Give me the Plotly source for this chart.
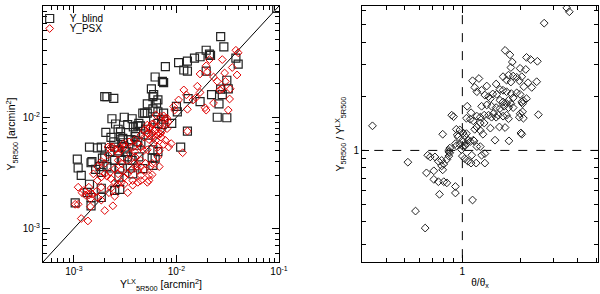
import plotly.graph_objects as go

# ---------------- Left panel data ----------------
blind_x = [0.095, 2.7e-2, 2.9e-2, 1.95e-2, 2.1e-2, 2.15e-2, 1.5e-2, 1.7e-2, 1.05e-2, 1.28e-2,
           1.18e-2, 1.28e-2, 7.8e-3, 6.2e-3, 7.3e-3, 7.5e-3, 1.95e-2, 3.8e-2, 4.0e-2, 3.1e-2,
           3.2e-2, 2.7e-2, 2.8e-2, 2.2e-2, 1.7e-2, 2.6e-2, 2.5e-2, 3.1e-2, 1.3e-2, 1.0e-2,
           1.02e-2, 1.1e-2, 1.28e-2, 5.7e-3, 6.0e-3, 5.9e-3, 6.6e-3, 6.4e-3, 5.2e-3, 5.9e-3,
           6.6e-3, 7.5e-3, 7.5e-3, 7.2e-3, 9.0e-3, 2.0e-3, 2.1e-3, 2.45e-3, 2.35e-3, 2.55e-3,
           2.05e-3, 2.7e-3, 2.85e-3, 2.85e-3, 3.0e-3, 3.1e-3, 3.7e-3, 3.35e-3, 3.8e-3, 4.2e-3,
           4.45e-3, 4.7e-3, 4.9e-3, 5.2e-3, 5.0e-3, 4.3e-3, 4.0e-3, 3.95e-3, 3.4e-3, 3.6e-3,
           4.1e-3, 5.3e-3, 6.0e-3, 6.6e-3, 5.9e-3, 6.6e-3, 5.8e-3, 6.2e-3, 5.9e-3, 1.85e-3,
           1.7e-3, 1.42e-3, 2.25e-3, 2.0e-3, 2.5e-3, 2.7e-3, 3.2e-3, 1.08e-3, 1.1e-3, 1.18e-3,
           1.47e-3, 1.5e-3, 1.42e-3, 1.63e-3, 1.8e-3, 1.9e-3, 2.1e-3, 2.3e-3, 2.5e-3, 2.9e-3,
           2.8e-3, 3.3e-3, 3.35e-3, 3.7e-3, 2.75e-3, 2.5e-3, 2.8e-3, 1.35e-3, 1.47e-3, 1.85e-3,
           1.85e-3, 1.03e-3, 1.47e-3, 4.2e-3, 4.5e-3, 3.05e-3, 3.1e-3, 2.3e-3, 2.45e-3, 1.85e-3,
           3.55e-3, 3.75e-3, 4.3e-3, 4.7e-3]
blind_y = [0.095, 5.3e-2, 4.3e-2, 4.0e-2, 3.7e-2, 3.6e-2, 3.4e-2, 3.5e-2, 3.1e-2, 3.2e-2,
           2.66e-2, 2.6e-2, 2.85e-2, 2.3e-2, 2.1e-2, 2.05e-2, 2.6e-2, 3.4e-2, 3.0e-2, 2.15e-2,
           1.8e-2, 1.79e-2, 1.6e-2, 1.6e-2, 1.38e-2, 1.32e-2, 1.0e-2, 9.9e-3, 1.47e-2, 1.25e-2,
           1.12e-2, 5.4e-3, 7.5e-3, 1.8e-2, 1.6e-2, 1.53e-2, 1.43e-2, 1.34e-2, 1.32e-2, 1.19e-2,
           1.12e-2, 1.09e-2, 9.6e-3, 8.6e-3, 8.8e-3, 1.53e-2, 1.53e-2, 1.48e-2, 9.7e-3, 8.7e-3,
           7.3e-3, 7.8e-3, 7.4e-3, 6.7e-3, 6.45e-3, 1.0e-2, 9.7e-3, 8.6e-3, 8.2e-3, 8.35e-3,
           8.35e-3, 1.09e-2, 1.09e-2, 1.09e-2, 7.8e-3, 8.8e-3, 7.3e-3, 6.7e-3, 6.3e-3, 6.3e-3,
           5.6e-3, 6.9e-3, 9.5e-3, 8.8e-3, 5.1e-3, 4.9e-3, 4.3e-3, 4.3e-3, 3.7e-3, 5.4e-3,
           5.3e-3, 5.4e-3, 4.9e-3, 4.4e-3, 5.4e-3, 5.0e-3, 4.9e-3, 4.2e-3, 3.5e-3, 3.0e-3,
           3.9e-3, 4.0e-3, 2.5e-3, 3.4e-3, 3.6e-3, 4.3e-3, 3.6e-3, 3.5e-3, 4.1e-3, 4.1e-3,
           3.5e-3, 4.9e-3, 4.4e-3, 4.1e-3, 2.9e-3, 2.2e-3, 2.25e-3, 2.1e-3, 1.9e-3, 2.3e-3,
           1.9e-3, 1.7e-3, 1.6e-3, 6.0e-3, 5.9e-3, 5.9e-3, 5.4e-3, 6.6e-3, 6.0e-3, 3.2e-3,
           3.5e-3, 3.1e-3, 4.4e-3, 3.45e-3]

psx_x = [3.8e-2, 4.0e-2, 3.5e-2, 3.9e-2, 3.35e-2, 3.3e-2, 3.2e-2, 2.8e-2, 2.95e-2, 3.0e-2,
         2.1e-2, 1.95e-2, 2.0e-2, 2.3e-2, 2.5e-2, 2.65e-2, 2.8e-2, 1.7e-2, 1.6e-2, 1.7e-2,
         1.55e-2, 1.18e-2, 1.25e-2, 1.05e-2, 9.4e-3, 9.6e-3, 1.28e-2, 1.28e-2, 1.15e-2, 1.45e-2,
         2.3e-2, 1.9e-2, 1.95e-2, 7.5e-3, 7.8e-3, 8.1e-3, 8.3e-3, 7.9e-3, 7.0e-3, 6.6e-3,
         7.2e-3, 8.1e-3, 5.8e-3, 5.5e-3, 6.0e-3, 4.85e-3, 5.2e-3, 4.5e-3, 5.8e-3, 6.6e-3,
         4.85e-3, 5.4e-3, 5.8e-3, 6.3e-3, 7.1e-3, 7.8e-3, 7.5e-3, 6.0e-3, 6.6e-3, 6.8e-3,
         4.2e-3, 4.5e-3, 4.8e-3, 5.2e-3, 3.8e-3, 3.9e-3, 3.55e-3, 3.95e-3, 3.1e-3, 2.9e-3,
         2.7e-3, 2.4e-3, 2.55e-3, 2.15e-3, 3.35e-3, 3.9e-3, 4.1e-3, 4.5e-3, 5.0e-3, 5.6e-3,
         4.85e-3, 4.5e-3, 5.8e-3, 5.4e-3, 3.6e-3, 3.35e-3, 3.1e-3, 3.75e-3, 4.2e-3, 2.9e-3,
         2.7e-3, 2.5e-3, 2.25e-3, 2.1e-3, 2.0e-3, 1.85e-3, 1.7e-3, 2.3e-3, 2.5e-3, 2.7e-3,
         2.9e-3, 3.1e-3, 3.35e-3, 2.3e-3, 2.2e-3, 2.5e-3, 1.85e-3, 1.65e-3, 1.5e-3, 1.4e-3,
         1.3e-3, 1.2e-3, 1.25e-3, 1.4e-3, 1.1e-3, 1.45e-3, 1.7e-3, 1.85e-3, 2.0e-3, 2.4e-3,
         1.45e-3, 1.03e-3, 1.1e-3, 1.18e-3, 1.37e-3, 1.7e-3, 1.55e-3, 1.85e-3, 2.0e-3, 2.15e-3,
         2.3e-3, 2.85e-3, 3.05e-3, 3.45e-3, 3.9e-3, 5.7e-3, 6.1e-3, 5.2e-3, 5.4e-3, 6.3e-3,
         7.0e-3, 8.4e-3, 8.9e-3, 6.6e-3, 6.8e-3, 5.8e-3, 6.6e-3, 7.0e-3, 2.7e-3, 2.9e-3,
         4.2e-3, 4.5e-3, 3.75e-3, 4.5e-3, 5.4e-3, 5.2e-3]
psx_y = [4.0e-2, 3.8e-2, 2.8e-2, 2.4e-2, 1.8e-2, 1.46e-2, 1.16e-2, 3.3e-2, 2.5e-2, 2.1e-2,
         3.3e-2, 2.9e-2, 2.55e-2, 2.3e-2, 2.1e-2, 1.76e-2, 1.8e-2, 2.45e-2, 1.9e-2, 1.67e-2,
         1.5e-2, 1.76e-2, 1.59e-2, 1.43e-2, 1.25e-2, 1.16e-2, 1.18e-2, 7.5e-3, 4.8e-3, 1.43e-2,
         1.34e-2, 1.22e-2, 1.16e-2, 1.03e-2, 9.7e-3, 9.8e-3, 9.1e-3, 8.6e-3, 8.7e-3, 8.2e-3,
         7.5e-3, 7.9e-3, 8.7e-3, 8.2e-3, 8.7e-3, 7.7e-3, 7.2e-3, 6.9e-3, 7.2e-3, 6.9e-3,
         6.6e-3, 6.3e-3, 6.6e-3, 6.2e-3, 6.6e-3, 6.2e-3, 5.7e-3, 5.8e-3, 5.4e-3, 5.0e-3,
         5.8e-3, 5.4e-3, 5.0e-3, 5.1e-3, 5.4e-3, 4.9e-3, 4.7e-3, 4.4e-3, 5.4e-3, 5.1e-3,
         4.7e-3, 5.4e-3, 5.1e-3, 4.6e-3, 4.1e-3, 3.85e-3, 3.6e-3, 4.1e-3, 3.85e-3, 3.6e-3,
         3.35e-3, 3.0e-3, 3.05e-3, 2.7e-3, 3.35e-3, 3.1e-3, 2.9e-3, 2.7e-3, 2.6e-3, 3.35e-3,
         3.1e-3, 3.45e-3, 3.2e-3, 2.95e-3, 3.1e-3, 2.9e-3, 2.7e-3, 2.8e-3, 2.6e-3, 2.5e-3,
         2.6e-3, 2.5e-3, 2.1e-3, 2.3e-3, 2.1e-3, 1.95e-3, 2.35e-3, 2.15e-3, 2.05e-3, 2.0e-3,
         2.0e-3, 2.1e-3, 2.2e-3, 2.35e-3, 2.35e-3, 1.85e-3, 1.9e-3, 1.8e-3, 1.45e-3, 1.6e-3,
         1.57e-3, 1.65e-3, 1.65e-3, 1.23e-3, 1.17e-3, 3.6e-3, 3.1e-3, 4.0e-3, 3.85e-3, 5.4e-3,
         5.4e-3, 5.4e-3, 5.8e-3, 6.0e-3, 6.2e-3, 7.0e-3, 7.5e-3, 8.5e-3, 7.9e-3, 1.05e-2,
         1.01e-2, 5.4e-3, 5.8e-3, 4.4e-3, 3.6e-3, 3.85e-3, 7.3e-3, 7.1e-3, 4.1e-3, 3.85e-3,
         3.35e-3, 3.6e-3, 2.45e-3, 2.7e-3, 3.0e-3, 2.6e-3]

one_to_one = [5e-4, 0.1]

# ---------------- Right panel data ----------------
theta_ratio = [3.5, 3.61, 2.67, 1.67, 1.77, 1.82, 2.16, 2.27, 2.46, 2.0,
               2.14, 1.79, 1.74, 1.84, 1.63, 1.92, 2.04, 1.7, 1.79, 1.98,
               2.2, 2.09, 2.44, 2.3, 1.13, 1.22, 1.16, 1.26, 1.19, 1.5,
               1.34, 1.57, 1.63, 1.44, 1.51, 1.7, 1.8, 1.92, 2.0, 2.16,
               2.08, 1.84, 1.74, 1.31, 1.37, 1.4, 1.57, 1.63, 1.7, 1.79,
               1.74, 2.04, 2.06, 2.0, 1.26, 1.34, 1.42, 1.5, 1.57, 1.65,
               1.84, 1.06, 2.06, 2.49, 1.45, 1.54, 1.63, 1.37, 1.42, 1.5,
               1.7, 1.74, 1.11, 1.19, 1.24, 1.3, 0.88, 0.9, 1.05, 1.1,
               1.14, 1.24, 1.3, 1.4, 1.56, 1.67, 1.19, 1.16, 1.24, 0.93,
               0.97, 1.01, 0.94, 0.95, 1.03, 1.05, 1.28, 0.79, 2.04, 1.48,
               1.75, 1.14, 1.15, 1.07, 1.1, 1.01, 1.05, 1.03, 0.92, 0.93,
               0.97, 0.99, 1.01, 0.86, 0.85, 0.83, 0.66, 0.68, 0.52, 0.72,
               0.75, 0.78, 0.8, 0.78, 0.79, 0.65, 0.71, 1.0, 1.03, 1.12,
               1.07, 1.11, 1.18, 1.26, 1.31, 1.31, 0.71, 0.75, 0.8, 0.83,
               0.92, 0.92, 0.76, 1.13, 0.57, 0.64, 0.34, 0.85, 0.85, 0.86,
               1.19, 1.24, 1.98, 2.08, 2.02]
y_ratio = [6.2, 5.9, 5.1, 3.6, 3.4, 3.1, 3.29, 3.2, 3.13, 2.86,
           2.82, 2.89, 2.62, 2.59, 2.57, 2.55, 2.57, 2.46, 2.4, 2.44,
           2.38, 2.26, 2.41, 2.24, 2.44, 2.51, 2.24, 2.16, 2.12, 2.34,
           2.28, 2.18, 2.16, 2.06, 2.05, 2.12, 2.07, 2.09, 2.05, 1.94,
           1.89, 1.96, 1.9, 2.03, 1.99, 1.94, 1.9, 1.86, 1.82, 1.82,
           1.73, 1.86, 1.82, 1.6, 1.76, 1.79, 1.76, 1.73, 1.71, 1.76,
           1.73, 1.76, 1.64, 1.58, 1.6, 1.57, 1.55, 1.57, 1.53, 1.53,
           1.57, 1.5, 1.62, 1.55, 1.53, 1.57, 1.57, 1.54, 1.51, 1.49,
           1.46, 1.42, 1.42, 1.33, 1.35, 1.34, 1.35, 1.31, 1.29, 1.31,
           1.3, 1.25, 1.22, 1.19, 1.2, 1.24, 1.23, 1.23, 1.23, 1.14,
           1.13, 1.14, 1.13, 1.14, 1.12, 1.12, 1.09, 1.06, 1.09, 1.06,
           1.08, 1.01, 1.05, 0.97, 0.93, 0.89, 0.94, 0.92, 0.86, 0.92,
           0.87, 0.88, 0.84, 0.82, 0.78, 0.75, 0.77, 0.93, 0.9, 0.94,
           0.87, 0.85, 0.85, 0.94, 0.96, 0.85, 0.69, 0.67, 0.67, 0.66,
           0.63, 0.58, 0.57, 0.53, 0.46, 0.37, 1.37, 1.0, 0.98, 1.03,
           1.05, 1.05, 1.53, 1.51, 1.25]
ref_x_line = [1, 1]
ref_x_span = [0.2, 7.0]
ref_y_line = [1, 1]
ref_y_span = [0.28, 5.2]

left_ticks = [1e-3, 1e-2, 1e-1]
left_ticktext = ["10<sup>-3</sup>", "10<sup>-2</sup>", "10<sup>-1</sup>"]
left_minor = [m * 10.0 ** e for e in (-4, -3, -2) for m in range(2, 10)]
right_x_minor = [0.3, 0.4, 0.5, 0.6, 0.7, 0.8, 0.9, 2, 3, 4, 5]
right_y_minor = [0.3, 0.4, 0.5, 0.6, 0.7, 0.8, 0.9, 2, 3, 4, 5, 6]

FONT = "Liberation Sans, Arial, sans-serif"
RED = "#e00000"
BLACK = "#222222"

fig = go.Figure()

fig.add_trace(go.Scatter(x=one_to_one, y=one_to_one, mode="lines",
                         line=dict(color="black", width=1), showlegend=False,
                         xaxis="x", yaxis="y", hoverinfo="skip"))
fig.add_trace(go.Scatter(x=blind_x, y=blind_y, mode="markers", name="Y_blind",
                         marker=dict(symbol="square-open", size=8, color=BLACK,
                                     line=dict(width=1.2)),
                         xaxis="x", yaxis="y", legend="legend"))
fig.add_trace(go.Scatter(x=psx_x, y=psx_y, mode="markers", name="Y_PSX",
                         marker=dict(symbol="diamond-open", size=6, color=RED,
                                     line=dict(width=1)),
                         xaxis="x", yaxis="y", legend="legend2"))

fig.add_trace(go.Scatter(x=ref_x_line, y=ref_x_span, mode="lines",
                         line=dict(color="black", width=1, dash="dash"),
                         showlegend=False, xaxis="x2", yaxis="y2", hoverinfo="skip"))
fig.add_trace(go.Scatter(x=ref_y_span, y=ref_y_line, mode="lines",
                         line=dict(color="black", width=1, dash="dash"),
                         showlegend=False, xaxis="x2", yaxis="y2", hoverinfo="skip"))
fig.add_trace(go.Scatter(x=theta_ratio, y=y_ratio, mode="markers",
                         marker=dict(symbol="diamond-open", size=6, color=BLACK,
                                     line=dict(width=1)),
                         showlegend=False, xaxis="x2", yaxis="y2"))

axis_common = dict(type="log", showline=True, linecolor="black", linewidth=1,
                   mirror="ticks", ticks="inside", ticklen=7, tickwidth=1,
                   tickcolor="black", showgrid=False, zeroline=False, automargin=False,
                   tickfont=dict(family=FONT, size=10, color="black"))

legend_common = dict(xanchor="left", yanchor="top", bgcolor="rgba(0,0,0,0)",
                     font=dict(size=10, family=FONT), itemwidth=30, tracegroupgap=0)

fig.update_layout(
    width=600, height=294,
    margin=dict(l=43, r=2, t=6, b=32),
    paper_bgcolor="white", plot_bgcolor="white",
    font=dict(family=FONT, size=10, color="black"),
    showlegend=True,
    legend=dict(legend_common, x=-0.024, y=1.0078),
    legend2=dict(legend_common, x=-0.024, y=0.96875),
    xaxis=dict(axis_common, domain=[0.0, 0.4252], range=[-3.301, -1],
               tickvals=left_ticks, ticktext=left_ticktext,
               minor=dict(tickvals=left_minor, ticklen=4, ticks="inside", tickcolor="black"),
               title=dict(text="Y<sup>LX</sup><sub>5R500</sub> [arcmin<sup>2</sup>]",
                          font=dict(size=10.5), standoff=1),
               anchor="y"),
    yaxis=dict(axis_common, domain=[0.0, 1.0], range=[-3.301, -1],
               tickvals=left_ticks, ticktext=left_ticktext,
               minor=dict(tickvals=left_minor, ticklen=4, ticks="inside", tickcolor="black"),
               title=dict(text="Y<sub>5R500</sub> [arcmin<sup>2</sup>]",
                          font=dict(size=10.5), standoff=4),
               anchor="x"),
    xaxis2=dict(axis_common, domain=[0.5748, 1.0], range=[-0.523, 0.707],
                tickvals=[1], ticktext=["1"],
                minor=dict(tickvals=right_x_minor, ticklen=4, ticks="inside", tickcolor="black"),
                title=dict(text="θ/θ<sub>x</sub>", font=dict(size=10), standoff=2),
                anchor="y2"),
    yaxis2=dict(axis_common, domain=[0.0, 1.0], range=[-0.6205, 0.803],
                tickvals=[1], ticktext=["1"],
                minor=dict(tickvals=right_y_minor, ticklen=4, ticks="inside", tickcolor="black"),
                title=dict(text="Y<sub>5R500</sub> / Y<sup>LX</sup><sub>5R500</sub>",
                           font=dict(size=10.5), standoff=6),
                anchor="x2"),
)

fig.write_html("out.html", config={"displayModeBar": False},
               post_script="document.body.style.margin='0';")
